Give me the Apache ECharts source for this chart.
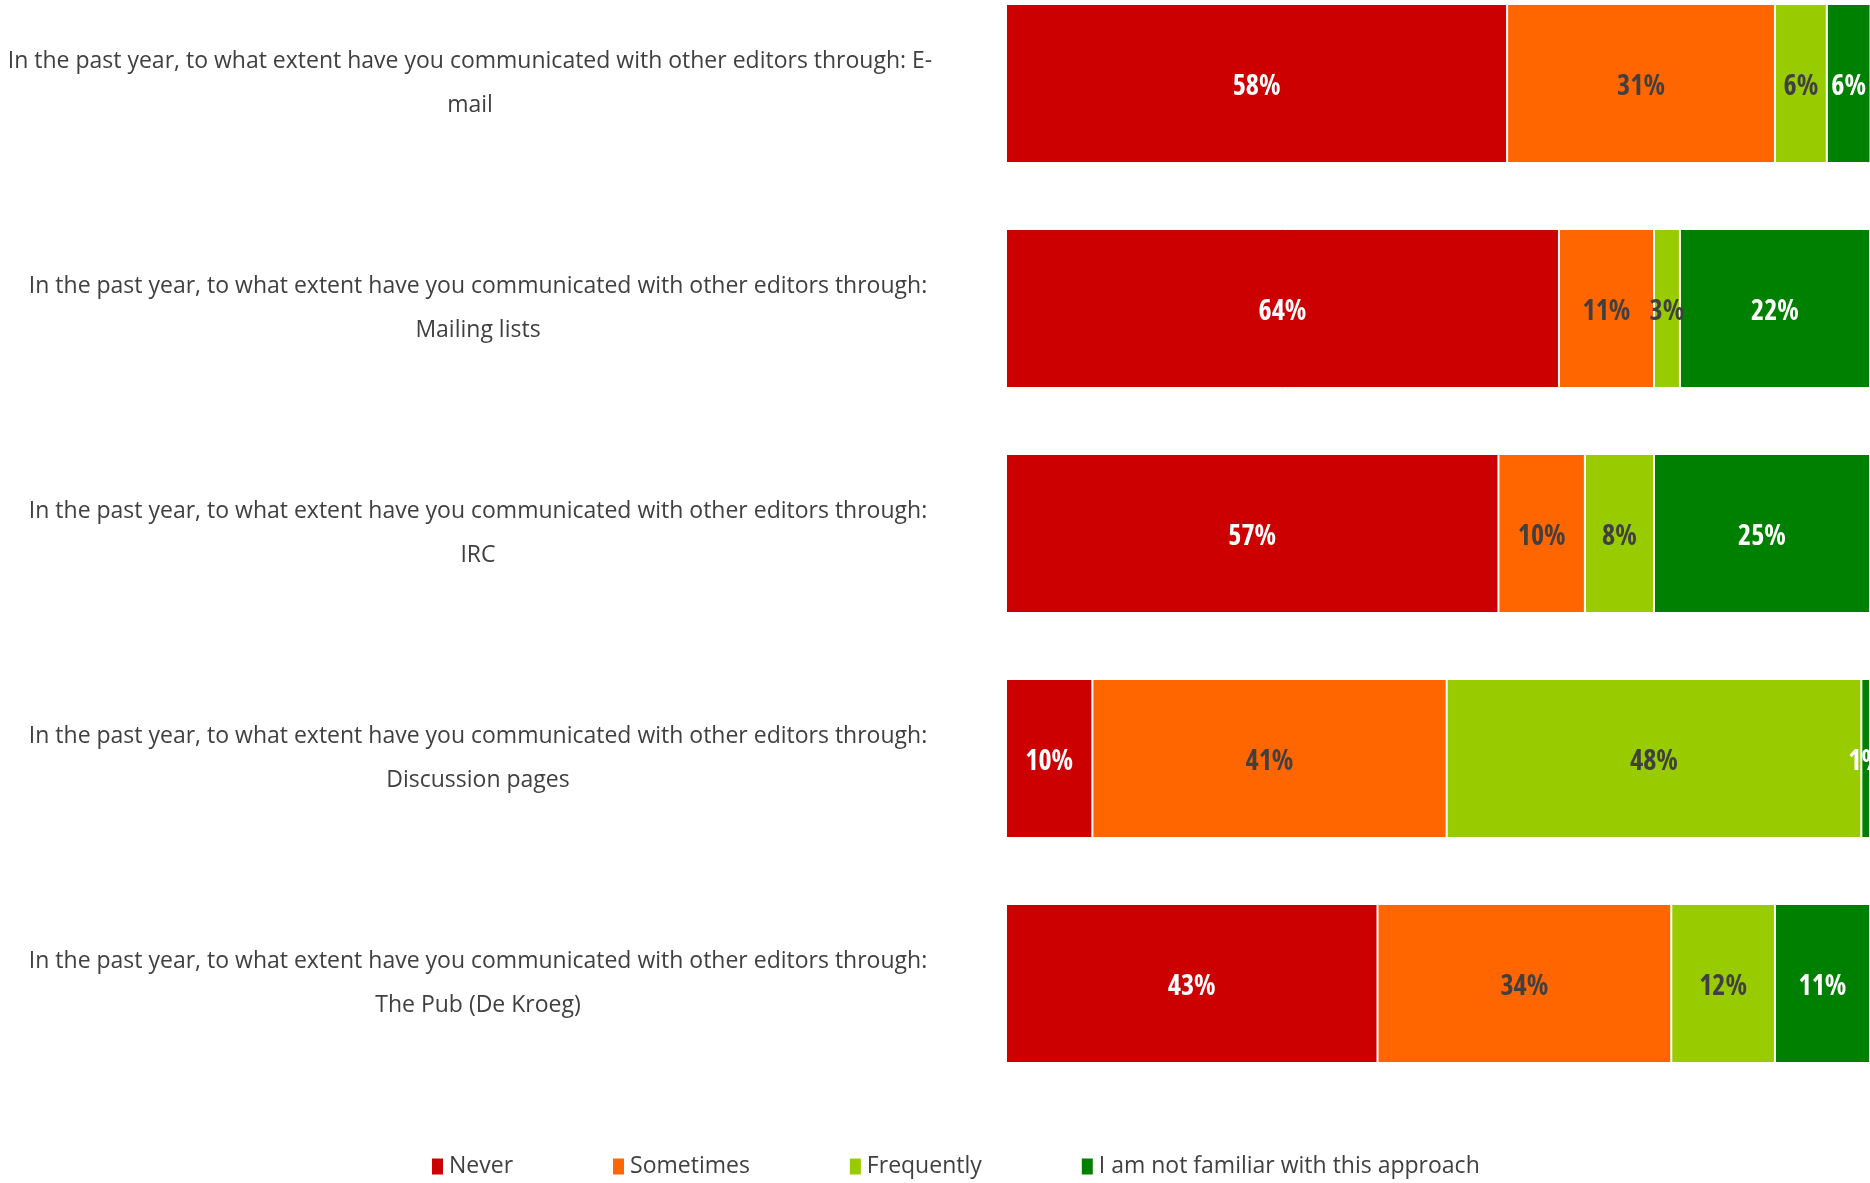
<!DOCTYPE html>
<html>
<head>
<meta charset="utf-8">
<title>Communication channels</title>
<script src="https://cdn.jsdelivr.net/npm/echarts@6/dist/echarts.min.js"></script>
<style>
  html, body { margin: 0; padding: 0; background: #ffffff; }
  #chart { width: 1870px; height: 1183px; }
</style>
</head>
<body>
<div id="chart"></div>
<script>
// Survey questions (one row per channel)
const categories = [
  'In the past year, to what extent have you communicated with other editors through: E-\nmail',
  'In the past year, to what extent have you communicated with other editors through:\nMailing lists',
  'In the past year, to what extent have you communicated with other editors through:\nIRC',
  'In the past year, to what extent have you communicated with other editors through:\nDiscussion pages',
  'In the past year, to what extent have you communicated with other editors through:\nThe Pub (De Kroeg)'
];

// Share of respondents (%) per answer
const never       = [58, 64, 57, 10, 43];
const sometimes   = [31, 11, 10, 41, 34];
const frequently  = [6, 3, 8, 48, 12];
const notFamiliar = [6, 22, 25, 1, 11];

const seriesNames = ['Never', 'Sometimes', 'Frequently', 'I am not familiar with this approach'];

const FONT = "'Open Sans', 'DejaVu Sans Condensed', sans-serif";
// bold condensed face for the in-bar percentages
const W_BOLD = 'bold condensed';
const TEXT = '#404040';

const colors = ['#CC0000', '#FF6600', '#99CC00', '#008000'];
const labelColors = ['#ffffff', TEXT, TEXT, '#ffffff'];
const values = [never, sometimes, frequently, notFamiliar];

const chart = echarts.init(document.getElementById('chart'), null, { renderer: 'canvas' });

// first question wraps on a longer line, so its block sits a little further left
const yData = categories.map((c, i) => i === 0
  ? { value: c, textStyle: { align: 'center', padding: [5, 16, 0, 0] } }
  : c);

chart.setOption({
  backgroundColor: '#ffffff',
  animation: false,
  color: colors,
  legend: {
    data: seriesNames,
    left: 425,
    top: 1150,
    padding: 5,
    icon: 'rect',
    itemWidth: 13,
    itemHeight: 18,
    itemGap: 98,
    textStyle: { fontFamily: FONT, fontSize: 23, color: TEXT }
  },
  grid: {
    left: 1006,
    right: 0,
    top: -29,
    height: 1125,
    outerBoundsMode: 'none',
    containLabel: false
  },
  xAxis: {
    type: 'value',
    min: 0,
    max: 100,
    show: false
  },
  yAxis: {
    type: 'category',
    inverse: true,
    data: yData,
    axisLine: { show: false },
    axisTick: { show: false },
    splitLine: { show: false },
    axisLabel: {
      margin: 528,
      align: 'center',
      padding: [5, 0, 0, 0],
      fontFamily: FONT,
      fontSize: 23,
      lineHeight: 44,
      color: TEXT
    }
  },
  series: values.map((v, i) => ({
    name: seriesNames[i],
    type: 'bar',
    stack: 'total',
    barWidth: 159,
    data: v,
    itemStyle: { color: colors[i], borderColor: '#ffffff', borderWidth: 1 },
    label: {
      show: true,
      position: 'inside',
      offset: [0, 4],
      formatter: '{c}%',
      fontFamily: FONT,
      fontWeight: W_BOLD,
      fontSize: 28,
      color: labelColors[i]
    }
  }))
});
</script>
</body>
</html>
